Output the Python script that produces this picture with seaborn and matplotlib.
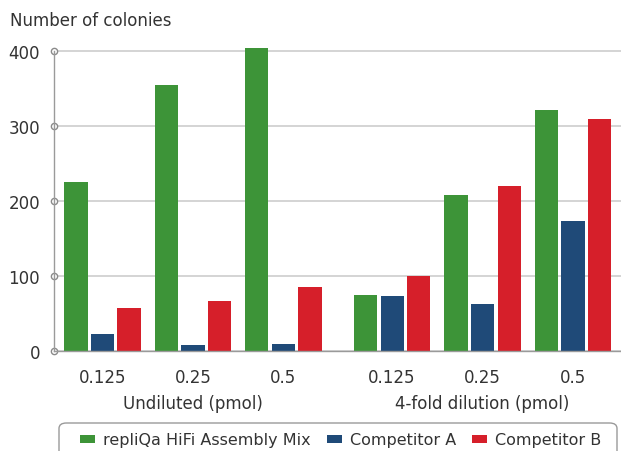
import numpy as np
import pandas as pd
import matplotlib
matplotlib.use("Agg")
import matplotlib.pyplot as plt
import matplotlib.transforms as mtransforms
from matplotlib.patches import FancyBboxPatch
import seaborn as sns

# values
doses = ["0.125", "0.25", "0.5"]
conditions = ["Undiluted (pmol)", "4-fold dilution (pmol)"]
series = ["repliQa HiFi Assembly Mix", "Competitor A", "Competitor B"]
repliqa = [225, 355, 404, 75, 208, 321]
comp_a = [23, 8, 9, 73, 63, 173]
comp_b = [57, 67, 85, 100, 220, 309]
colors = ["#3d9438", "#1f4a78", "#d61f2a"]

sns.set_style("white")
plt.rcParams["font.family"] = ["DejaVu Sans"]
txt = "#333333"

# x position of each group: doses side by side, extra gap between conditions
cond_gap = 3.2
positions = [c * cond_gap + d for c in range(len(conditions)) for d in range(len(doses))]

rows = []
for name, vals in zip(series, [repliqa, comp_a, comp_b]):
    for p, v in zip(positions, vals):
        rows.append({"pos": p, "series": name, "value": v})
df = pd.DataFrame(rows)

fig = plt.figure(figsize=(6.21, 4.52), dpi=100)
ax = fig.add_axes([54 / 621, 100 / 452, 567 / 621, 315 / 452])

sns.barplot(data=df, x="pos", y="value", hue="series", hue_order=series,
            palette=colors, native_scale=True, width=0.88, gap=0.13,
            saturation=1, linewidth=0, edgecolor="none", ax=ax)

ax.set_xlim(-0.536, 5.73)
ax.set_ylim(0, 420)
ax.set_yticks([0, 100, 200, 300, 400])
ax.yaxis.grid(True, color="#d4d4d4", linewidth=1.4)
ax.set_axisbelow(True)
for s in ["top", "right"]:
    ax.spines[s].set_visible(False)
ax.spines["left"].set_color("#9a9a9a")
ax.spines["bottom"].set_color("#9a9a9a")
ax.spines["left"].set_linewidth(1.0)
ax.spines["bottom"].set_linewidth(1.0)
ax.spines["left"].set_bounds(0, 400)

ax.set_xticks(positions)
ax.set_xticklabels(doses * len(conditions))
ax.tick_params(axis="x", bottom=False, length=0, pad=12, labelsize=12, labelcolor=txt)
ax.tick_params(axis="y", left=True, length=0, pad=10, labelsize=12, labelcolor=txt)
for t in ax.yaxis.get_major_ticks():
    t.tick1line.set_marker("o")
    t.tick1line.set_markersize(4.5)
    t.tick1line.set_markerfacecolor("white")
    t.tick1line.set_markeredgecolor("#8a8a8a")
    t.tick1line.set_markeredgewidth(1.0)
    t.tick1line.set_clip_on(False)
    t.tick1line.set_zorder(5)
ax.set_xlabel("")
ax.set_ylabel("")

trans = mtransforms.blended_transform_factory(ax.transData, ax.transAxes)
for c, label in enumerate(conditions):
    ax.text(c * cond_gap + 1, -0.165, label, transform=trans, ha="center",
            va="center", fontsize=12, color=txt)

fig.text(10 / 621, 1 - 21 / 452, "Number of colonies", ha="left",
         va="center", fontsize=12, color=txt)

# legend box, cut off by the bottom edge like in the original
frame = FancyBboxPatch((59 / 621, -12 / 452), 558 / 621, 40 / 452,
                       boxstyle="round,pad=0,rounding_size=0.012",
                       transform=fig.transFigure, facecolor="white",
                       edgecolor="#9a9a9a", linewidth=1.0)
fig.patches.append(frame)

handles, labels = ax.get_legend_handles_labels()
ax.get_legend().remove()
leg = fig.legend(handles, labels, loc="center left", ncol=3,
                 bbox_to_anchor=(80 / 621, 1 - 441 / 452),
                 frameon=False, fontsize=11.5, handlelength=0.95,
                 handleheight=0.45, handletextpad=0.5, columnspacing=1.0,
                 borderpad=0, borderaxespad=0, labelcolor=txt)

fig.savefig("out.png", dpi=100)
